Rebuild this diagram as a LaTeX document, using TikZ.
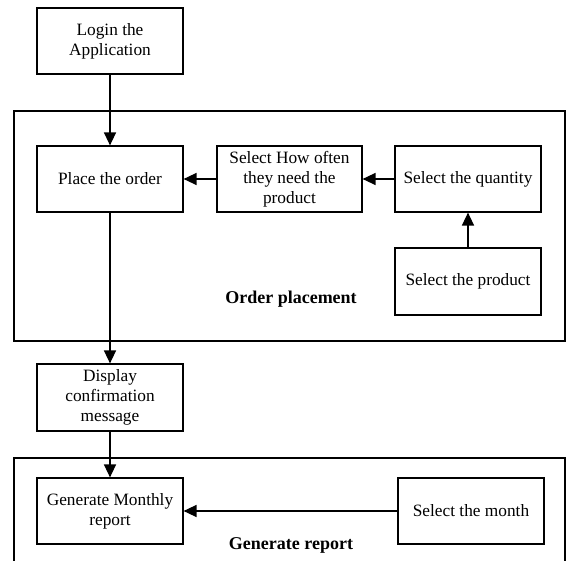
\documentclass[tikz,border=0pt]{standalone}
\usepackage{fontspec}
\setmainfont{Liberation Serif}
\usetikzlibrary{arrows.meta}
\begin{document}
\begin{tikzpicture}[x=1pt,y=-1pt,
  box/.style={draw,line width=1.2pt,minimum width=146pt,minimum height=66pt,inner sep=2pt,align=center,font=\fontsize{17.3}{20}\selectfont},
  grp/.style={draw,line width=1.2pt},
  arr/.style={line width=1.4pt,-{Triangle[length=13pt,width=12pt]}},
  lbl/.style={font=\fontsize{18}{20}\selectfont\bfseries}]
\clip (0,0) rectangle (566,561);
\fill[white] (0,0) rectangle (566,561);
\draw[grp] (14,111) rectangle (565,341);
\draw[grp] (14,458) rectangle (565,600);
\node[box] (login) at (110,41) {Login the\\Application};
\node[box] (place) at (110,179) {Place the order};
\node[box,minimum width=145pt] (often) at (289.5,179) {Select How often\\they need the\\product};
\node[box] (qty) at (468,179) {Select the quantity};
\node[box,minimum height=67pt] (prod) at (468,281.5) {Select the product};
\node[box,minimum height=67pt] (disp) at (110,397.5) {Display\\confirmation\\message};
\node[box] (gen) at (110,511) {Generate Monthly\\report};
\node[box] (month) at (471,511) {Select the month};
\node[lbl] (op) at (291,299) {Order placement};
\node[lbl] (gr) at (291,545) {Generate report};
\draw[arr] (login) -- (place);
\draw[arr] (often) -- (place);
\draw[arr] (qty) -- (often);
\draw[arr] (prod) -- (qty);
\draw[arr] (place) -- (disp);
\draw[arr] (disp) -- (gen);
\draw[arr] (month) -- (gen);
\end{tikzpicture}
\end{document}
